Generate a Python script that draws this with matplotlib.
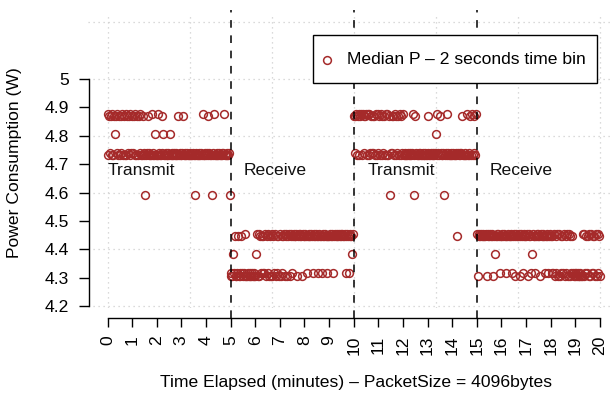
import numpy as np
import matplotlib
matplotlib.use("Agg")
import matplotlib.pyplot as plt
from matplotlib.patches import Rectangle
from matplotlib.lines import Line2D

plt.rcParams['font.family'] = ['Liberation Sans', 'DejaVu Sans']

# Power level (W) for each code used in the bin strings below
level_codes = ['a', 'A', 'b', 'c', 'C', 'd', 'e', 'E', 'f', 'g', 'G']
level_watts = [4.869, 4.877, 4.806, 4.731, 4.740, 4.591,
               4.447, 4.455, 4.384, 4.307, 4.315]

# Median power per 2-second bin, one code per bin, one string per minute
minute_codes = [
    "AcaCacAcab" "aCAcacaCAc" "acAcaCacAC",   # 0
    "aCacAcacaC" "AccaCcdcCa" "cCccAcCcbc",   # 1
    "cAcCccaCbc" "cCccCcbcCc" "cCccCcacCc",   # 2
    "cCacCccCcc" "cCccCcdcCc" "ccCcCcAccC",   # 3
    "cCacCccdCc" "AccCccCccC" "cCAccCccCd",   # 4
    "gGgfGeggGe" "gGgeGgGgEg" "gGgGggGgGg",   # 5
    "gfEgEgeGeG" "eGEgeGEgeg" "EgeGEgeGeg",   # 6
    "EgeGeEgeEg" "eEgeEGeEee" "EgeEeEegEe",   # 7
    "eEeGeeEeEe" "GeEeEeGeEe" "eGeEeEeeGe",   # 8
    "eEeEeGeEeE" "eeEeEeEeeE" "GeEeGeEefE",   # 9
    "aCaAcaAcaA" "cAaCaAcAcA" "CaCaCacAcA",   # 10
    "CacAcaCacA" "cAcadCaCac" "AcaCacAcaC",   # 11
    "AccCccCccC" "cCAcdaCccC" "cCccCccCcc",   # 12
    "aCccCccCcC" "bcACcaCccC" "dcCcACccCc",   # 13
    "cCccCceCcC" "cCaccCccAc" "cCacAcaCcA",   # 14
    "EgeEeEeeEe" "eEgEeeEeEe" "gefeEeEeGe",   # 15
    "eEeEeeGeEe" "eEeGeEgeEe" "eEegEeGeEe",   # 16
    "eEgEeeGfEe" "eGeEeEegEe" "eEeGeEeGeE",   # 17
    "eGeGEgeGEg" "EgeGeGEgeG" "EgEgeGeGgG",   # 18
    "gGgGggGggE" "gEGeGegEgE" "GeGegEgEGe",   # 19
    "g",                                      # 20
]
bin_seconds = 2

phase_names = ["Transmit", "Receive", "Transmit", "Receive"]
phase_label_x = [0.02, 5.54, 10.58, 15.53]
phase_label_y = 4.676
phase_boundaries = [5, 10, 15]

x_ticks = list(range(0, 21))
y_ticks = [4.2, 4.3, 4.4, 4.5, 4.6, 4.7, 4.8, 4.9, 5.0]
y_tick_labels = ["4.2", "4.3", "4.4", "4.5", "4.6", "4.7", "4.8", "4.9", "5"]

legend_label = "Median P \u2013 2 seconds time bin"
x_label = "Time Elapsed (minutes) \u2013 PacketSize = 4096bytes"
y_label = "Power Consumption (W)"

# ---- assemble series ----
codes = "".join(minute_codes)
lookup = dict(zip(level_codes, level_watts))
power = np.array([lookup[c] for c in codes])
minutes = np.arange(len(codes)) * bin_seconds / 60.0

# ---- figure ----
W, H = 611, 401
fig = plt.figure(figsize=(W / 100, H / 100), dpi=100)
ax = fig.add_axes([88 / W, (H - 308) / H, (611 - 88) / W, (308 - 15) / H])
ax.set_xlim(-0.792, 20.447)
ax.set_ylim(4.193, 5.2256)

red = "#A52A2A"
fs = 12.6

# dotted background grid
grid_kw = dict(color="#CFCFCF", lw=0.9, linestyle=(0, (1, 3)), zorder=0)
for gx in np.linspace(0, 20, 7):
    ax.axvline(gx, **grid_kw)
for gy in np.arange(4.2, 5.21, 0.2):
    ax.axhline(gy, **grid_kw)

# data points
ax.plot(minutes, power, linestyle="none", marker="o", ms=5.6,
        mfc="none", mec=red, mew=1.1, zorder=2)

# phase boundaries
for b in phase_boundaries:
    ax.plot([b, b], [4.1577, 5.2432], color="black", lw=1.1,
            linestyle=(0, (5, 5)), clip_on=False, zorder=3)

for name, px in zip(phase_names, phase_label_x):
    ax.text(px, phase_label_y, name, fontsize=fs, ha="left", va="center",
            color="#111111", zorder=4)

# axes styling
for s in ["top", "right"]:
    ax.spines[s].set_visible(False)
ax.spines["bottom"].set_position(("outward", 7.2))
ax.spines["bottom"].set_bounds(0, 20)
ax.spines["left"].set_bounds(4.2, 5.0)
ax.spines["left"].set_position(("outward", -0.7))
for s in ["bottom", "left"]:
    ax.spines[s].set_linewidth(1.0)

ax.set_xticks(x_ticks)
ax.set_xticklabels([str(v) for v in x_ticks], rotation=90)
ax.set_yticks(y_ticks)
ax.set_yticklabels(y_tick_labels)
ax.tick_params(axis="x", direction="out", length=6.5, width=1.0,
               labelsize=fs, pad=6)
ax.tick_params(axis="y", direction="out", length=7.2, width=1.0,
               labelsize=fs, pad=7)

fig.text(356 / W, 1 - 383 / H, x_label, fontsize=fs, ha="center", va="center")
fig.text(15 / W, 1 - 163 / H, y_label, fontsize=fs, ha="center", va="center",
         rotation=90)

# legend box
fig.add_artist(Rectangle((313 / W, 1 - 83 / H), 284 / W, 48 / H,
                         transform=fig.transFigure, facecolor="white",
                         edgecolor="black", lw=1.0, zorder=5))
fig.add_artist(Line2D([327 / W], [1 - 60 / H], transform=fig.transFigure,
                      marker="o", ms=5.6, mfc="none", mec=red, mew=1.1,
                      linestyle="none", zorder=6))
fig.text(347 / W, 1 - 60 / H, legend_label, fontsize=fs, ha="left",
         va="center", zorder=6)

fig.savefig("out.png", dpi=100)
